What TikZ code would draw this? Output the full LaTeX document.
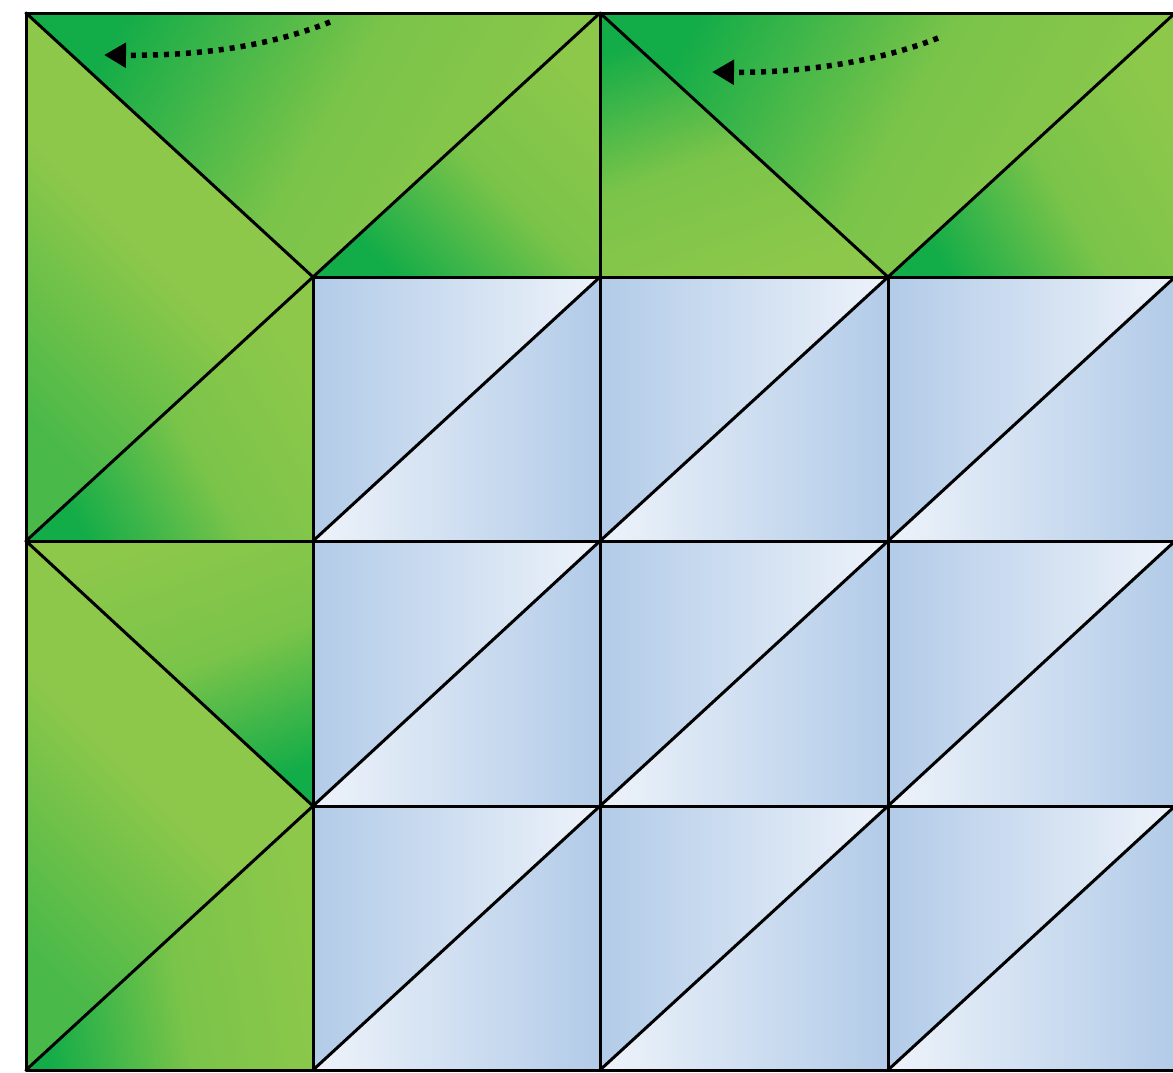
\documentclass[tikz,border=0pt]{standalone}
\usetikzlibrary{arrows.meta}
\definecolor{dkg}{RGB}{18,172,72}
\definecolor{ltg}{RGB}{141,200,74}
\definecolor{blu}{RGB}{178,203,232}
\definecolor{whb}{RGB}{238,243,250}
\tikzset{
  gridline/.style={line width=3pt, black, line cap=round, line join=round},
  gshade/.style={top color=dkg, bottom color=ltg, middle color=ltg!85!dkg, shading angle=#1},
  gsoft/.style={top color=ltg!45!dkg, bottom color=ltg, middle color=ltg, shading angle=#1},
  bup/.style={left color=blu, right color=whb},
  bdown/.style={left color=whb, right color=blu},
  dotarrow/.style={line width=5.5pt, dash pattern=on 5pt off 6pt, -{Triangle[length=22pt,width=24pt]}}
}
\begin{document}
\begin{tikzpicture}[x=1pt,y=-1pt]
\useasboundingbox (0,0) rectangle (1173,1072);
\fill[white] (0,0) rectangle (1173,1072);
\begin{scope}
\clip (0,0) rectangle (1173,1072);
% green triangles
\shade[gshade=60]  (26,13) -- (600,13) -- (313,277) -- cycle;
\shade[gshade=135] (313,277) -- (600,13) -- (600,277) -- cycle;
\shade[gsoft=135]  (26,13) -- (313,277) -- (26,541) -- cycle;
\shade[gshade=120] (26,541) -- (313,277) -- (313,541) -- cycle;
\shade[gshade=200] (26,541) -- (313,541) -- (313,806) -- cycle;
\shade[gsoft=135]  (26,541) -- (313,806) -- (26,1070) -- cycle;
\shade[gshade=100] (26,1070) -- (313,806) -- (313,1070) -- cycle;
\shade[gshade=20]  (600,13) -- (888,277) -- (600,277) -- cycle;
\shade[gshade=60]  (600,13) -- (1175,13) -- (888,277) -- cycle;
\shade[gshade=120] (888,277) -- (1175,13) -- (1175,277) -- cycle;
% blue cells
\foreach \xl/\xr in {313/600,600/888,888/1175}
  \foreach \yt/\yb in {277/541,541/806,806/1070} {
    \shade[bup] (\xl,\yt) -- (\xr,\yt) -- (\xl,\yb) -- cycle;
    \shade[bdown] (\xl,\yb) -- (\xr,\yt) -- (\xr,\yb) -- cycle;
    \draw[gridline] (\xl,\yb) -- (\xr,\yt);
  }
% grid lines
\draw[gridline] (26,13) -- (1180,13);
\draw[gridline] (313,277) -- (1180,277);
\draw[gridline] (26,541) -- (1180,541);
\draw[gridline] (313,806) -- (1180,806);
\draw[gridline] (26,1070) -- (1180,1070);
\draw[gridline] (26,13) -- (26,1070);
\draw[gridline] (313,277) -- (313,1070);
\draw[gridline] (600,13) -- (600,1070);
\draw[gridline] (888,277) -- (888,1070);
\draw[gridline] (26,13) -- (313,277) -- (600,13) -- (888,277) -- (1175,13);
\draw[gridline] (313,277) -- (26,541) -- (313,806) -- (26,1070);
% arrows
\coordinate (a1s) at (330,22);
\coordinate (a1e) at (104,55);
\coordinate (a2s) at (938,38);
\coordinate (a2e) at (712,72);
\draw[dotarrow] (a1s) .. controls (270,46) and (200,56) .. (a1e);
\draw[dotarrow] (a2s) .. controls (878,62) and (800,73) .. (a2e);
\end{scope}
\end{tikzpicture}
\end{document}
